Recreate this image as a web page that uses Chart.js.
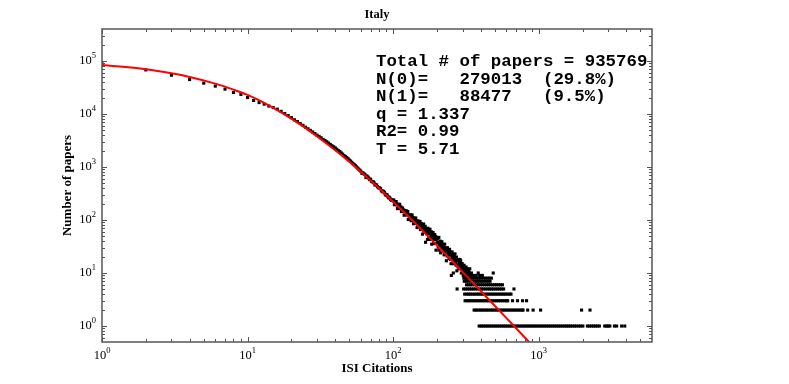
<!DOCTYPE html>
<html><head><meta charset="utf-8">
<script src="https://cdn.jsdelivr.net/npm/chart.js@4/dist/chart.umd.min.js"></script>
<style>html,body{margin:0;padding:0;background:#fff}canvas{display:block}</style>
</head><body>
<canvas id="c" width="789" height="384"></canvas>
<script>
const chartTitle = 'Italy';
const xAxisTitle = 'ISI Citations';
const yAxisTitle = 'Number of papers';
const statsLines = [
  'Total # of papers = 935769',
  'N(0)=   279013  (29.8%)',
  'N(1)=   88477   (9.5%)',
  'q = 1.337',
  'R2= 0.99',
  'T = 5.71'
];
const xRange = [1, 6000];
const yRange = [0.5, 400000];
const xDecadeTicks = [1, 10, 100, 1000];
const yDecadeTicks = [1, 10, 100, 1000, 10000, 100000];

// Data points: citations k and number of papers with k citations
const headCitations = [
  1,2,3,4,5,6,7,8,9,10,11,12,13,14,15,16,17,18,19,20,
  21,22,23,24,25,26,27,28,29,30,31,32,33,34,35,36,37,38,39,40,
  41,42,43,44,45,46,47,48,49,50,51,52,53,54,55,56,57,58,59,60,
  61,62,63,64,65,66,67,68,69,70,71,72,73,74,75,76,77,78,79,80,
  81,82,83,84,85,86,87,88,89,90,91,92,93,94,95,96,97,98,99,100,
  101,102,103,104,105,106,107,108,109,110,111,112,113,114,115,116,117,118,119,120,
  121,122,123,124,125,126,127,128,129,130,131,132,133,134,135,136,137,138,139,140,
  141,142,143,144,145,146,147,148,149,150,151,152,153,154,155,156,157,158,159,160,
  161,162,163,164,165,166,167,168,169,170,171,172,173,174,175,176,177,178,179,180,
  181,182,183,184,185,186,187,188,189,190,191,192,193,194,195,196,197,198,199,200,
  202,203,204,206,207,208,210,211,212,214,215,216,218,219,
  220,222,223,224,226,227,228,230,231,232,234,235,236,238,239,
  240,242,243,244,246,247,248,250,251,252,254,255,256,258,259,
  260,262,263,264,266,267,268,270,271,272,274,276,278,279,
  280,282,283,284,286,287,288,290,291,292,294,295,296,298,299,300,
  301,304,307,309,313,314,317,323,326,330,334,336,345
];
const headPapers = [
  88477,67700,53800,44500,38100,33500,29400,25400,23300,20400,17950,16400,15300,14100,13200,12300,11200,10200,9330,8510,
  7760,7160,6610,6100,5620,5250,4900,4570,4270,3980,3760,3550,3310,3160,2990,2820,2660,2510,2400,2290,
  2160,2040,1950,1840,1740,1640,1570,1500,1430,1350,1290,1220,1160,1110,1060,1000,955,912,871,832,
  759,776,741,724,631,676,646,617,575,589,537,525,525,501,457,468,457,427,407,407,
  398,389,355,355,339,347,331,309,295,302,295,275,263,269,257,245,234,240,234,229,
  239,194,218,198,222,193,164,198,172,185,198,164,177,144,161,169,147,155,123,151,
  129,136,149,124,134,144,102,123,118,124,111,125,97,112,124,103,111,85,102,108,
  88,99,109,87,96,72,87,96,78,84,89,76,94,66,80,86,67,74,54,79,
  68,84,59,71,61,76,38,64,69,55,63,43,70,56,62,47,63,55,67,43,
  56,49,60,35,52,55,44,58,47,36,50,43,53,36,45,49,27,43,46,37,
  45,38,31,47,27,35,40,33,24,36,30,39,29,33,
  35,31,26,22,35,24,28,30,27,17,27,21,30,23,24,
  26,19,22,28,22,18,25,15,9,22,25,21,19,22,10,
  15,22,20,18,23,17,15,19,14,20,11,17,18,13,
  14,18,15,12,16,13,18,13,17,15,10,12,14,15,13,12,
  13,11,14,10,12,11,13,10,12,11,10,12,10
];

// Tail: citation values k whose paper count equals the level
const tailLevels = [1, 2, 3, 4, 5, 6, 7, 8, 9, 10];
const tailAt1 = [390,403,415,429,442,456,471,486,502,518,535,552,570,588,607,626,646,667,688,710,733,756,781,805,831,858,885,913,942,972,1003,1035,1068,1102,1137,1173,1211,1250,1290,1331,1373,1417,1462,1509,1557,1600,1650,1700,1760,1810,1880,1940,2010,2160,2230,2300,2380,2450,2530,2610,2840,2920,3000,3080,3310,3430,3710,3900];
const tailAt2 = [360,371,383,396,408,421,435,448,464,478,494,510,526,543,560,578,597,616,636,656,677,699,722,745,769,780,840,915,1030,1970,2250];
const tailAt3 = [312,322,332,343,354,365,377,389,402,414,426,440,454,468,483,499,515,531,548,566,584,603,612,661,715,774,825];
const tailAt4 = [310,321,331,341,353,364,376,388,401,413,427,441,455,470,485,501,517,534,551,569,587,606,626,645];
const tailAt5 = [275,305,315,325,335,346,357,369,381,394,405,418,432,446,460,475,490,506,522,539,556,574,676];
const tailAt6 = [319,329,339,350,362,374,385,398,411,424,438,452,466,481,497,513,529,546,563];
const tailAt7 = [308,318,327,340,352,366,379,391,404,419,434,449,463];
const tailAt8 = [306,316,324,337,349,361,374,386,399,416,430,444,458,473];
const tailAt9 = [303,311,320,333,347,358,372,393,410];
const tailAt10 = [384,487];
const tailLists = [tailAt1, tailAt2, tailAt3, tailAt4, tailAt5, tailAt6, tailAt7, tailAt8, tailAt9, tailAt10];

// q-exponential fit curve
const fitCitations = [1,2,3,4,6,8,10,13,17,22,28,35,45,60,80,100,130,170,220,300,400,520,676,900];
const fitPapers = [84100,70000,58600,49900,37300,28800,22900,16200,10700,6840,4350,2750,1600,813,398,221,110,52.5,25.4,10.5,4.57,2.14,1.0,0.437];

const points = headCitations.map((k, i) => ({x: k, y: headPapers[i]}));
tailLists.forEach((ks, li) => ks.forEach(k => points.push({x: k, y: tailLevels[li]})));
const fitLine = fitCitations.map((k, i) => ({x: k, y: fitPapers[i]}));

const frameColor = '#555';
const serif = '"Liberation Serif", "Times New Roman", serif';

const decor = {
  id: 'decor',
  afterDatasetsDraw(chart) {
    const {ctx, chartArea: a, scales: {x, y}} = chart;
    ctx.save();
    ctx.strokeStyle = frameColor;
    ctx.lineWidth = 1;
    const xDec = [1, 10, 100, 1000];
    xDec.forEach(d => {
      for (let m = 1; m <= 9; m++) {
        const v = m * d;
        if (v >= xRange[1]) continue;
        const px = Math.round(x.getPixelForValue(v)) + 0.5;
        const len = m === 1 ? 5 : 3;
        ctx.beginPath();
        ctx.moveTo(px, a.bottom); ctx.lineTo(px, a.bottom - len);
        ctx.moveTo(px, a.top); ctx.lineTo(px, a.top + len);
        ctx.stroke();
      }
    });
    const yDec = [0.1, 1, 10, 100, 1000, 10000, 100000];
    yDec.forEach(d => {
      for (let m = 1; m <= 9; m++) {
        const v = m * d;
        if (v <= yRange[0] || v >= yRange[1]) continue;
        const py = Math.round(y.getPixelForValue(v)) + 0.5;
        const len = m === 1 ? 5 : 3;
        ctx.beginPath();
        ctx.moveTo(a.left, py); ctx.lineTo(a.left + len, py);
        ctx.moveTo(a.right, py); ctx.lineTo(a.right - len, py);
        ctx.stroke();
      }
    });
    ctx.lineWidth = 1.5;
    ctx.strokeRect(a.left, a.top, a.right - a.left, a.bottom - a.top);

    ctx.fillStyle = '#000';
    const baseFont = '12.5px ' + serif;
    const expFont = '8.5px ' + serif;
    ctx.textBaseline = 'middle';
    ctx.textAlign = 'left';
    function pow(cx, cy, v, mode) {
      const e = String(Math.round(Math.log10(v)));
      ctx.font = baseFont; const wb = ctx.measureText('10').width;
      ctx.font = expFont; const we = ctx.measureText(e).width;
      const x0 = mode === 'center' ? cx - (wb + we) / 2 : cx - (wb + we);
      ctx.font = baseFont; ctx.fillText('10', x0, cy);
      ctx.font = expFont; ctx.fillText(e, x0 + wb, cy - 5);
    }
    xDecadeTicks.forEach(v => pow(x.getPixelForValue(v), 356, v, 'center'));
    yDecadeTicks.forEach(v => pow(a.left - 6, y.getPixelForValue(v), v, 'right'));

    ctx.font = 'bold 12.5px ' + serif;
    ctx.textAlign = 'center';
    ctx.fillText(chartTitle, (a.left + a.right) / 2, 15);

    ctx.font = 'bold 17.4px "Liberation Mono", "Courier New", monospace';
    ctx.textAlign = 'left';
    ctx.textBaseline = 'alphabetic';
    statsLines.forEach((s, i) => ctx.fillText(s, 376, 66 + i * 17.6));
    ctx.restore();
  }
};

new Chart(document.getElementById('c'), {
  type: 'scatter',
  data: {
    datasets: [
      {
        type: 'line', data: fitLine, borderColor: '#ff0000', borderWidth: 2,
        pointRadius: 0, cubicInterpolationMode: 'monotone', fill: false, order: 0
      },
      {
        type: 'scatter', data: points, pointStyle: 'rect', pointRadius: 2.2,
        backgroundColor: '#000', borderWidth: 0, order: 1
      }
    ]
  },
  options: {
    responsive: false, animation: false, devicePixelRatio: 1,
    layout: {padding: {top: 29, right: 137, bottom: 0, left: 0}},
    plugins: {legend: {display: false}, tooltip: {enabled: false}, title: {display: false}},
    scales: {
      x: {
        type: 'logarithmic', min: xRange[0], max: xRange[1], position: 'bottom',
        grid: {display: false, drawTicks: false}, border: {display: false},
        ticks: {display: false},
        title: {display: true, text: xAxisTitle, color: '#000',
          font: {family: serif, size: 13, weight: 'bold'}, padding: {top: 0, bottom: 7.7}},
        afterFit(s) { s.height = 42; }
      },
      y: {
        type: 'logarithmic', min: yRange[0], max: yRange[1], position: 'left',
        grid: {display: false, drawTicks: false}, border: {display: false},
        ticks: {display: false},
        title: {display: true, text: yAxisTitle, color: '#000',
          font: {family: serif, size: 13, weight: 'bold'}, padding: {top: 60.2, bottom: 0}},
        afterFit(s) { s.width = 102; }
      }
    }
  },
  plugins: [decor]
});
</script>
</body></html>
